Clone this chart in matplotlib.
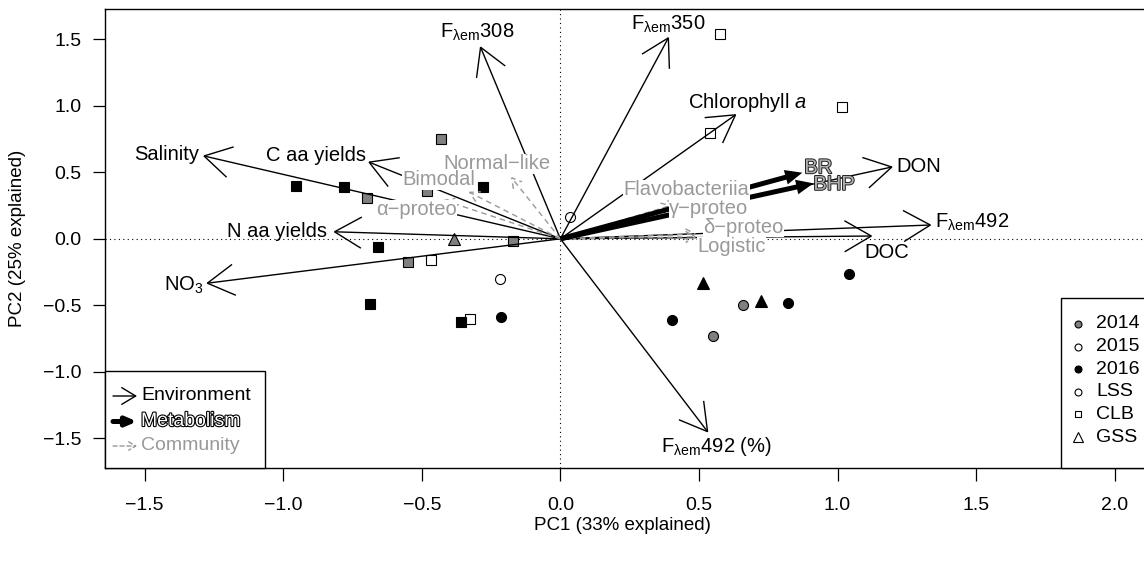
import matplotlib
matplotlib.use('Agg')
import matplotlib.pyplot as plt
import matplotlib.patheffects as pe
from matplotlib.patches import Rectangle, FancyArrowPatch
from matplotlib.lines import Line2D

plt.rcParams['font.family'] = ['Liberation Sans', 'DejaVu Sans']
plt.rcParams['mathtext.fontset'] = 'custom'
plt.rcParams['mathtext.rm'] = 'Liberation Sans'
plt.rcParams['mathtext.it'] = 'Liberation Sans:italic'
plt.rcParams['mathtext.bf'] = 'Liberation Sans:bold'

# ---------------- data ----------------
# sample scores
pc1 = [-0.432, -0.699, -0.480, -0.170, -0.549, -0.384, 0.605, 0.658, 0.550,
       -0.467, -0.326, 0.577, 1.016, 0.541, -0.218, 0.035,
       -0.954, -0.780, -0.278, -0.657, -0.686, -0.359, -0.214, 0.402, 0.820, 1.041, 0.513, 0.724]
pc2 = [0.750, 0.304, 0.359, -0.017, -0.172, -0.004, 0.270, -0.498, -0.731,
       -0.159, -0.601, 1.540, 0.993, 0.798, -0.300, 0.162,
       0.399, 0.387, 0.392, -0.064, -0.490, -0.628, -0.586, -0.611, -0.485, -0.267, -0.330, -0.465]
year = [2014, 2014, 2014, 2014, 2014, 2014, 2014, 2014, 2014,
        2015, 2015, 2015, 2015, 2015, 2015, 2015,
        2016, 2016, 2016, 2016, 2016, 2016, 2016, 2016, 2016, 2016, 2016, 2016]
site = ['CLB', 'CLB', 'CLB', 'CLB', 'CLB', 'GSS', 'GSS', 'LSS', 'LSS',
        'CLB', 'CLB', 'CLB', 'CLB', 'CLB', 'LSS', 'LSS',
        'CLB', 'CLB', 'CLB', 'CLB', 'CLB', 'CLB', 'LSS', 'LSS', 'LSS', 'LSS', 'GSS', 'GSS']

# environment loadings
env_names = [r'F$_{\mathrm{\lambda em}}$308', r'F$_{\mathrm{\lambda em}}$350', r'Chlorophyll $\it{a}$',
             'DON', r'F$_{\mathrm{\lambda em}}$492', 'DOC', r'F$_{\mathrm{\lambda em}}$492 (%)',
             'Salinity', 'C aa yields', 'N aa yields', r'NO$_3$']
env_pc1 = [-0.290, 0.392, 0.636, 1.201, 1.340, 1.127, 0.534, -1.291, -0.695, -0.820, -1.279]
env_pc2 = [1.450, 1.520, 0.938, 0.542, 0.104, 0.021, -1.458, 0.625, 0.580, 0.053, -0.335]

# metabolism loadings
met_names = ['BR', 'BHP']
met_pc1 = [0.873, 0.913]
met_pc2 = [0.497, 0.417]

# community loadings
com_names = ['Normal\u2212like', 'Bimodal', '\u03b1\u2212proteo', 'Flavobacteriia',
             '\u03b3\u2212proteo', '\u03b4\u2212proteo', 'Logistic']
com_pc1 = [-0.179, -0.332, -0.423, 0.430, 0.405, 0.492, 0.492]
com_pc2 = [0.467, 0.354, 0.292, 0.270, 0.252, 0.036, 0.015]

legend_years = ['2014', '2015', '2016']
legend_sites = ['LSS', 'CLB', 'GSS']

# ---------------- styles / layout ----------------
year_fill = {2014: '#808080', 2015: 'white', 2016: 'black'}
site_marker = {'LSS': 'o', 'CLB': 's', 'GSS': '^'}
site_size = {'LSS': 7.2, 'CLB': 6.8, 'GSS': 9.0}
PX = 0.72  # points per pixel at dpi 100

env_lab = [(-3, 14, 'center'), (-1, 12, 'center'), (11, 12, 'center'), (3, 0, 'left'),
           (3, 3, 'left'), (14, -16, 'center'), (8, -14, 'center'), (-4, 1, 'right'),
           (-2, 6, 'right'), (-6, 0, 'right'), (-2, -2, 'right')]
met_lab = [(2, 5), (0, -1)]
com_lab = [(-14, 13), (-30, 12), (-27, -10), (7, 13), (36, -3), (47, 7), (35, -10)]

FS = 14.5      # label text
FT = 14        # tick labels
FA = 13.5      # axis titles
W, H = 1144, 571
fig = plt.figure(figsize=(W / 100, H / 100), dpi=100)
ax_left, ax_right, ax_top, ax_bot = 105.3, 1150, 9, 468
ax = fig.add_axes([ax_left / W, 1 - ax_bot / H, (ax_right - ax_left) / W, (ax_bot - ax_top) / H])
x0px, ppu_x = 560.4, 277.1
y0px, ppu_y = 238.8, 133.0
ax.set_xlim((ax_left - x0px) / ppu_x, (ax_right - x0px) / ppu_x)
ax.set_ylim((y0px - ax_bot) / ppu_y, (y0px - ax_top) / ppu_y)

ax.axhline(0, color='black', ls=(0, (1, 3)), lw=0.8, zorder=1)
ax.axvline(0, color='black', ls=(0, (1, 3)), lw=0.8, zorder=1)

# points
for x, y, yr, s in zip(pc1, pc2, year, site):
    ax.plot([x], [y], marker=site_marker[s], ms=site_size[s], mfc=year_fill[yr],
            mec='black', mew=0.8, ls='none', zorder=3)


def draw_arrow(x, y, color, lw, ls, style, hl, hw, z):
    ax.annotate('', xy=(x, y), xytext=(0, 0),
                arrowprops=dict(arrowstyle=f'{style},head_length={hl},head_width={hw}',
                                color=color, lw=lw, ls=ls, shrinkA=0, shrinkB=0,
                                mutation_scale=1, joinstyle='miter', capstyle='butt'),
                zorder=z)


# environment arrows
for x, y in zip(env_pc1, env_pc2):
    draw_arrow(x, y, 'black', 1.0, '-', '->', 19.3, 11.2, 4)
# community arrows
for x, y in zip(com_pc1, com_pc2):
    draw_arrow(x, y, '#999999', 1.0, (0, (4, 3)), '->', 7.0, 4.0, 4)
# metabolism arrows
for x, y in zip(met_pc1, met_pc2):
    draw_arrow(x, y, 'black', 3.6, '-', '-|>', 6.0, 2.6, 5)

# labels
for n, x, y, (dx, dy, ha) in zip(env_names, env_pc1, env_pc2, env_lab):
    ax.annotate(n, xy=(x, y), xytext=(dx * PX, dy * PX), textcoords='offset points',
                ha=ha, va='center', fontsize=FS, color='black', zorder=6)
for n, x, y, (dx, dy) in zip(com_names, com_pc1, com_pc2, com_lab):
    ax.annotate(n, xy=(x, y), xytext=(dx * PX, dy * PX), textcoords='offset points',
                ha='center', va='center', fontsize=FS, color='#999999', zorder=6,
                bbox=dict(boxstyle='square,pad=0.02', fc='white', ec='none'))
outline = [pe.withStroke(linewidth=1.4, foreground='#222222')]
for n, x, y, (dx, dy) in zip(met_names, met_pc1, met_pc2, met_lab):
    t = ax.annotate(n, xy=(x, y), xytext=(dx * PX, dy * PX), textcoords='offset points',
                    ha='left', va='center', fontsize=FS, color='#b0b0b0', zorder=7)
    t.set_path_effects(outline)

# axes formatting
ax.set_xticks([-1.5, -1.0, -0.5, 0.0, 0.5, 1.0, 1.5, 2.0])
ax.set_yticks([-1.5, -1.0, -0.5, 0.0, 0.5, 1.0, 1.5])
ax.set_xticklabels(['\u22121.5', '\u22121.0', '\u22120.5', '0.0', '0.5', '1.0', '1.5', '2.0'])
ax.set_yticklabels(['\u22121.5', '\u22121.0', '\u22120.5', '0.0', '0.5', '1.0', '1.5'])
ax.tick_params(axis='both', length=9, width=0.9, labelsize=FT, color='black')
ax.tick_params(axis='x', pad=12)
ax.tick_params(axis='y', pad=8)
for sp in ax.spines.values():
    sp.set_linewidth(1.0)
fig.text(622 / W, 1 - 525 / H, 'PC1 (33% explained)', ha='center', va='center', fontsize=FA)
fig.text(18 / W, 1 - 238 / H, 'PC2 (25% explained)', ha='center', va='center', fontsize=FA,
         rotation=90)


# ---------------- legends (figure pixel coords) ----------------
def fx(px):
    return px / W


def fy(py):
    return 1 - py / H


tf = fig.transFigure
# left legend
fig.add_artist(Rectangle((fx(105.3), fy(468)), fx(265) - fx(105.3), fy(371) - fy(468),
                         transform=tf, fc='white', ec='black', lw=1.0, zorder=10))
leg_rows = [396, 421.5, 446]
leg_items = [('Environment', 'black', 1.0, '-', '->', 10, 6, 'black'),
             ('Metabolism', 'black', 3.6, '-', '-|>', 6, 2.6, 'white'),
             ('Community', '#999999', 1.0, (0, (3, 2)), '->', 5, 3, '#999999')]
for ry, (lab, col, lw, ls, sty, hl, hw, tc) in zip(leg_rows, leg_items):
    fig.add_artist(FancyArrowPatch(
        (fx(113), fy(ry)), (fx(137), fy(ry)), transform=tf,
        arrowstyle=f'{sty},head_length={hl},head_width={hw}', mutation_scale=1,
        color=col, lw=lw, ls=ls, shrinkA=0, shrinkB=0, zorder=11))
    t = fig.text(fx(141), fy(ry), lab, ha='left', va='center', fontsize=FS - 0.5, color=tc,
                 zorder=11)
    if lab == 'Metabolism':
        t.set_path_effects([pe.withStroke(linewidth=1.6, foreground='black')])

# right legend
fig.add_artist(Rectangle((fx(1061), fy(468)), fx(1150) - fx(1061), fy(298) - fy(468),
                         transform=tf, fc='white', ec='black', lw=1.0, zorder=10))
rrows = [324 + 22.6 * i for i in range(6)]
rmark = [('o', year_fill[int(y)], 5.0) for y in legend_years] + \
        [(site_marker[s], 'white', {'LSS': 5.0, 'CLB': 4.8, 'GSS': 7.0}[s]) for s in legend_sites]
for ry, lab, (m, fc, ms) in zip(rrows, legend_years + legend_sites, rmark):
    fig.add_artist(Line2D([fx(1077.7)], [fy(ry)], transform=tf, marker=m, ms=ms, mfc=fc,
                          mec='black', mew=0.8, ls='none', zorder=11))
    fig.text(fx(1096), fy(ry), lab, ha='left', va='center', fontsize=FS - 0.5, zorder=11)

fig.savefig('out.png', dpi=100)
